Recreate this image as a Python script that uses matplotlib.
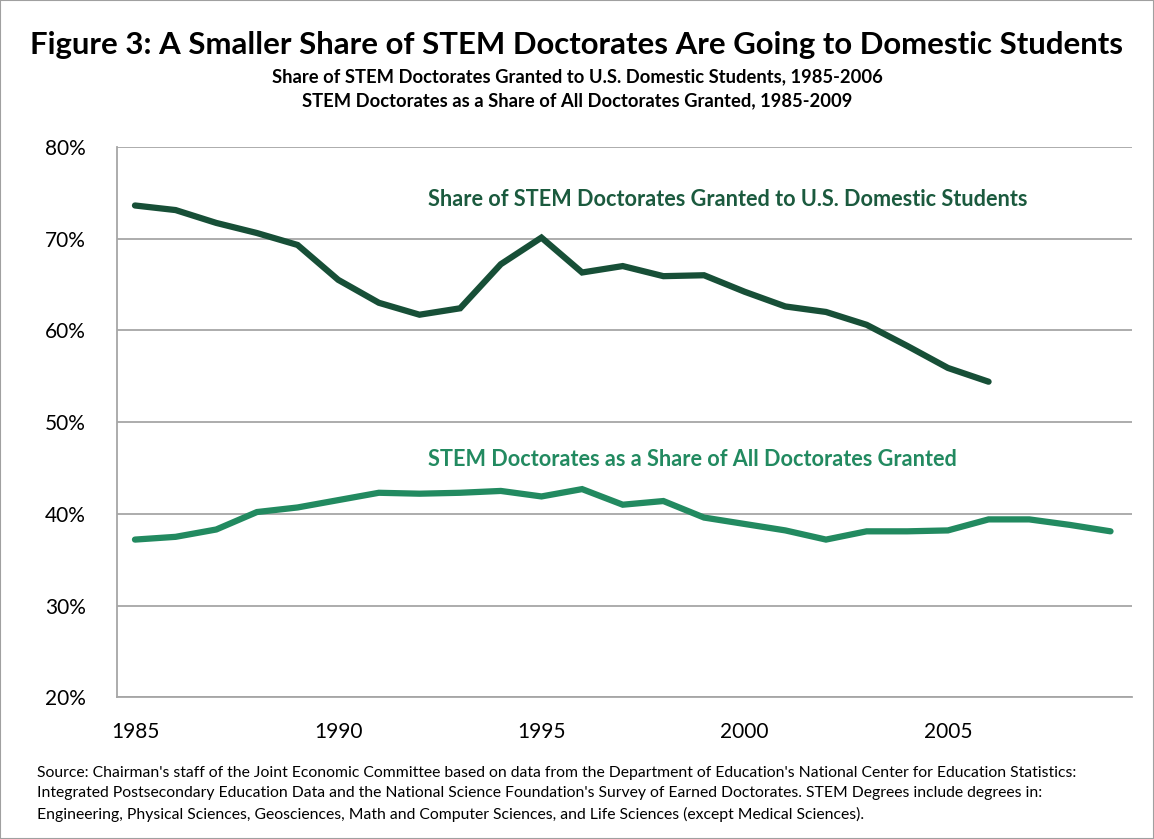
import matplotlib
matplotlib.use('Agg')
import matplotlib.pyplot as plt
from matplotlib.patches import Rectangle
from matplotlib.ticker import FuncFormatter

plt.rcParams['font.family'] = ['Lato', 'DejaVu Sans']

# Share of STEM doctorates granted to U.S. domestic students, 1985-2006 (%)
domestic_years = list(range(1985, 2007))
domestic_share = [73.6, 73.1, 71.7, 70.6, 69.3, 65.5, 63.0, 61.7, 62.4, 67.2, 70.1,
                  66.3, 67.0, 65.9, 66.0, 64.2, 62.6, 62.0, 60.6, 58.3, 55.9, 54.4]

# STEM doctorates as a share of all doctorates granted, 1985-2009 (%)
stem_years = list(range(1985, 2010))
stem_share = [37.2, 37.5, 38.3, 40.2, 40.7, 41.5, 42.3, 42.2, 42.3, 42.5, 41.9,
              42.7, 41.0, 41.4, 39.6, 38.9, 38.2, 37.2, 38.1, 38.1, 38.2, 39.4,
              39.4, 38.8, 38.1]

x_ticks = [1985, 1990, 1995, 2000, 2005]
y_ticks = [20, 30, 40, 50, 60, 70, 80]

dark_green = '#174f37'
light_green = '#228a60'
grid_grey = '#a6a6a6'

fig = plt.figure(figsize=(11.54, 8.39), dpi=100)
fig.patches.append(Rectangle((0, 0), 1, 1, transform=fig.transFigure, fill=False,
                             edgecolor='#a0a0a0', linewidth=1.5))

ax = fig.add_axes([0.1011, 0.1687, 0.8799, 0.6564])
ax.plot(domestic_years, domestic_share, color=dark_green, linewidth=4.5,
        solid_capstyle='round', solid_joinstyle='miter')
ax.plot(stem_years, stem_share, color=light_green, linewidth=4.5,
        solid_capstyle='round', solid_joinstyle='miter')

ax.set_xlim(1984.55, 2009.53)
ax.set_ylim(20, 80)
ax.set_xticks(x_ticks)
ax.set_yticks(y_ticks)
ax.yaxis.set_major_formatter(FuncFormatter(lambda v, p: '%d%%' % v))
ax.tick_params(axis='both', length=0, labelsize=15, colors='black')
ax.tick_params(axis='x', pad=18)
ax.tick_params(axis='y', pad=22)
ax.grid(axis='y', color=grid_grey, linewidth=1.3)
ax.set_axisbelow(True)
for side in ['top', 'right']:
    ax.spines[side].set_visible(False)
for side in ['left', 'bottom']:
    ax.spines[side].set_color(grid_grey)
    ax.spines[side].set_linewidth(1.3)

ax.text(1992.2, 74.2, 'Share of STEM Doctorates Granted to U.S. Domestic Students',
        color='#1b5a3e', fontsize=15.6, fontweight='bold', va='center', ha='left')
ax.text(1992.2, 45.9, 'STEM Doctorates as a Share of All Doctorates Granted',
        color=light_green, fontsize=15.6, fontweight='bold', va='center', ha='left')

fig.text(0.5, 0.946, 'Figure 3: A Smaller Share of STEM Doctorates Are Going to Domestic Students',
         ha='center', va='center', fontsize=22.4, fontweight='bold')
fig.text(0.5, 0.909, 'Share of STEM Doctorates Granted to U.S. Domestic Students, 1985-2006',
         ha='center', va='center', fontsize=13.2, fontweight='bold')
fig.text(0.5, 0.880, 'STEM Doctorates as a Share of All Doctorates Granted, 1985-2009',
         ha='center', va='center', fontsize=13.2, fontweight='bold')

source = ("Source: Chairman's staff of the Joint Economic Committee based on data from the Department of Education's National Center for Education Statistics:\n"
          "Integrated Postsecondary Education Data and the National Science Foundation's Survey of Earned Doctorates. STEM Degrees include degrees in:\n"
          "Engineering, Physical Sciences, Geosciences, Math and Computer Sciences, and Life Sciences (except Medical Sciences).")
fig.text(0.032, 0.087, source, ha='left', va='top', fontsize=11.3, linespacing=1.55)

fig.savefig('out.png', dpi=100)
